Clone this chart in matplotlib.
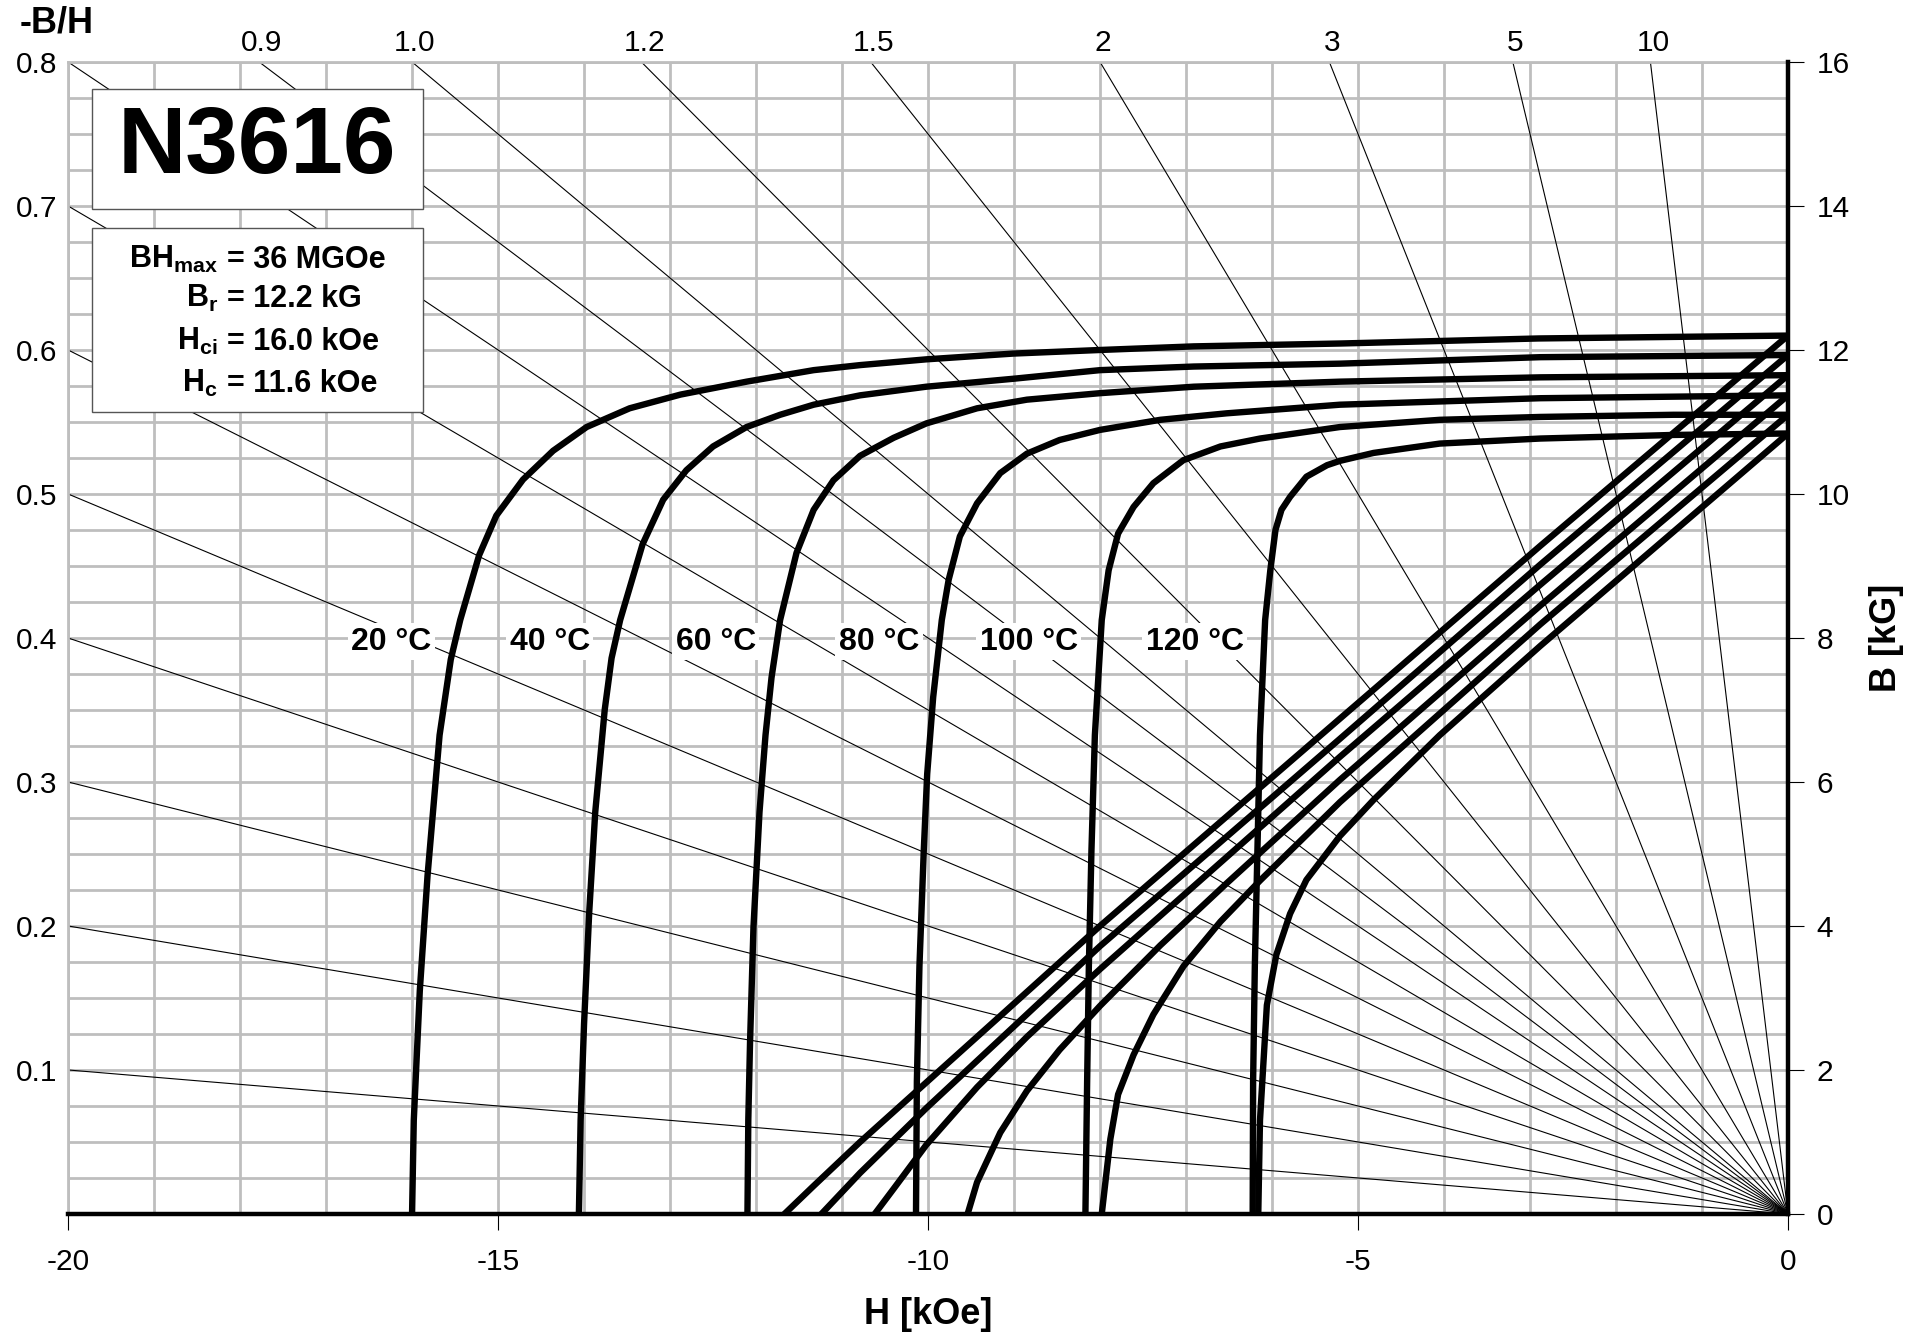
import numpy as np
import matplotlib.pyplot as plt
from matplotlib.patches import Rectangle

plt.rcParams['font.family'] = ['Liberation Sans', 'DejaVu Sans']
plt.rcParams['axes.unicode_minus'] = False
plt.rcParams['mathtext.fontset'] = 'custom'
plt.rcParams['mathtext.rm'] = 'Liberation Sans:bold'
plt.rcParams['mathtext.it'] = 'Liberation Sans:bold'
plt.rcParams['mathtext.bf'] = 'Liberation Sans:bold'

temps = [20, 40, 60, 80, 100, 120]
label_h = [-16.24, -14.40, -12.47, -10.57, -8.83, -6.90]

# intrinsic demagnetization curves, H [kOe] / J [kG]
j20_h = [-16.0, -15.98, -15.91, -15.82, -15.68, -15.55, -15.44, -15.22, -15.02, -14.71, -14.36,
         -13.97, -13.47, -12.88, -12.11, -11.33, -10.79, -10.02, -9.01, -8.0, -6.91, -5.2, -2.9, 0]
j20_b = [0, 1.3, 3.1, 4.7, 6.65, 7.7, 8.25, 9.15, 9.7, 10.2, 10.6,
         10.93, 11.19, 11.38, 11.56, 11.72, 11.79, 11.87, 11.95, 12.0, 12.05, 12.09, 12.16, 12.2]
j40_h = [-14.06, -14.04, -14.0, -13.94, -13.87, -13.76, -13.68, -13.58, -13.32, -13.08, -12.81,
         -12.50, -12.11, -11.72, -11.33, -10.79, -10.02, -9.01, -8.0, -6.91, -5.21, -2.88, 0]
j40_b = [0, 1.3, 2.64, 4.19, 5.58, 7.0, 7.72, 8.25, 9.3, 9.92, 10.33,
         10.66, 10.93, 11.1, 11.24, 11.37, 11.49, 11.6, 11.72, 11.77, 11.81, 11.9, 11.93]
j60_h = [-12.10, -12.09, -12.07, -12.03, -11.96, -11.89, -11.82, -11.72, -11.53, -11.33, -11.10,
         -10.79, -10.40, -10.02, -9.43, -8.85, -8.0, -6.91, -5.21, -2.88, 0]
j60_b = [0, 1.31, 2.38, 3.98, 5.58, 6.65, 7.45, 8.25, 9.18, 9.78, 10.19,
         10.53, 10.78, 10.98, 11.19, 11.31, 11.4, 11.49, 11.56, 11.62, 11.65]
j80_h = [-10.14, -10.13, -10.10, -10.05, -10.01, -9.94, -9.84, -9.76, -9.63, -9.43, -9.16,
         -8.85, -8.47, -8.0, -7.30, -6.53, -5.21, -2.88, 0]
j80_b = [0, 1.84, 3.44, 5.04, 6.11, 7.18, 8.25, 8.81, 9.41, 9.87, 10.29,
         10.56, 10.75, 10.89, 11.03, 11.12, 11.24, 11.33, 11.37]
j100_h = [-8.17, -8.15, -8.13, -8.10, -8.06, -7.98, -7.90, -7.79, -7.61, -7.38, -7.03,
          -6.60, -6.14, -5.21, -4.05, -2.88, -1.33, 0]
j100_b = [0, 1.84, 3.44, 5.04, 6.65, 8.25, 8.94, 9.45, 9.82, 10.15, 10.47,
          10.66, 10.77, 10.93, 11.03, 11.07, 11.1, 11.1]
j120_h = [-6.225, -6.22, -6.20, -6.17, -6.14, -6.08, -6.02, -5.96, -5.89, -5.79, -5.60, -5.36,
          -5.21, -4.82, -4.05, -2.88, -1.33, 0]
j120_b = [0, 1.84, 3.44, 5.04, 6.65, 8.25, 8.94, 9.5, 9.78, 9.96, 10.24, 10.40,
          10.46, 10.57, 10.7, 10.77, 10.82, 10.84]

# normal B-H curves
n20_h = [0, -2.88, -5.21, -8.0, -9.16, -10.79, -11.33, -11.67]
n20_b = [12.2, 9.28, 6.88, 4.0, 2.75, 1.0, 0.39, 0]
n40_h = [0, -2.88, -5.21, -8.0, -10.02, -10.79, -11.24]
n40_b = [11.93, 9.02, 6.6, 3.72, 1.47, 0.57, 0]
n60_h = [0, -2.88, -5.21, -8.0, -8.85, -9.43, -10.02, -10.40, -10.62]
n60_b = [11.65, 8.74, 6.35, 3.4, 2.46, 1.76, 0.96, 0.35, 0]
n80_h = [0, -2.88, -5.21, -6.53, -7.30, -8.0, -8.47, -8.85, -9.16, -9.43, -9.54]
n80_b = [11.37, 8.45, 6.03, 4.59, 3.73, 2.89, 2.28, 1.71, 1.13, 0.44, 0]
n100_h = [0, -2.88, -5.21, -6.14, -6.60, -7.03, -7.38, -7.61, -7.79, -7.88, -7.98]
n100_b = [11.1, 8.19, 5.72, 4.63, 4.06, 3.44, 2.77, 2.21, 1.66, 1.04, 0]
n120_h = [0, -2.88, -4.05, -4.82, -5.21, -5.60, -5.79, -5.95, -6.06, -6.14, -6.16]
n120_b = [10.84, 7.89, 6.65, 5.75, 5.25, 4.64, 4.17, 3.6, 2.9, 1.3, 0]

intr_h = [j20_h, j40_h, j60_h, j80_h, j100_h, j120_h]
intr_b = [j20_b, j40_b, j60_b, j80_b, j100_b, j120_b]
norm_h = [n20_h, n40_h, n60_h, n80_h, n100_h, n120_h]
norm_b = [n20_b, n40_b, n60_b, n80_b, n100_b, n120_b]

# permeance (load) lines -B/H
load_slopes = [0.1, 0.2, 0.3, 0.4, 0.5, 0.6, 0.7, 0.8, 0.9, 1.0, 1.2, 1.5, 2, 3, 5, 10]
top_slopes = [0.9, 1.0, 1.2, 1.5, 2, 3, 5, 10]
top_labels = ['0.9', '1.0', '1.2', '1.5', '2', '3', '5', '10']
bh_ticks = [0.1, 0.2, 0.3, 0.4, 0.5, 0.6, 0.7, 0.8]

grade = 'N3616'
prop_names = ['BH$_{max}$', 'B$_r$', 'H$_{ci}$', 'H$_c$']
prop_values = ['= 36 MGOe', '= 12.2 kG', '= 16.0 kOe', '= 11.6 kOe']

grid_col = '#BEBEBE'
fig = plt.figure(figsize=(19.23, 13.33), dpi=100)
ax = fig.add_axes([0.0354, 0.0893, 0.8944, 0.8642])
ax.set_xlim(-20, 0)
ax.set_ylim(0, 16)

ax.set_xticks(np.arange(-20, 1, 5))
ax.set_xticks(np.arange(-20, 1, 1), minor=True)
ax.set_yticks(np.arange(0, 17, 2))
ax.set_yticks(np.arange(0, 16.1, 0.5), minor=True)
ax.grid(which='both', color=grid_col, lw=2.0)
ax.set_axisbelow(True)
ax.yaxis.tick_right()
ax.tick_params(which='minor', length=0)
ax.tick_params(axis='x', which='major', direction='out', length=11.5, width=0.8,
               labelsize=21.5, pad=13)
ax.tick_params(axis='y', which='major', direction='out', length=11.5, width=0.8,
               labelsize=21.5, pad=9)
for s in ['left', 'top']:
    ax.spines[s].set_color(grid_col)
    ax.spines[s].set_linewidth(2.0)
for s in ['bottom', 'right']:
    ax.spines[s].set_color('black')
    ax.spines[s].set_linewidth(3.2)
    ax.spines[s].set_zorder(5)

# -B/H scale on the left
sec = ax.secondary_yaxis('left', functions=(lambda b: b / 20, lambda r: r * 20))
sec.set_yticks(bh_ticks)
sec.set_yticklabels([f'{v:.1f}' for v in bh_ticks])
sec.tick_params(length=0, labelsize=21.5, pad=8)
sec.spines['left'].set_visible(False)

for p in load_slopes:
    ax.plot([0, -20], [0, 20 * p], color='black', lw=0.8, zorder=2)
for p, lbl in zip(top_slopes, top_labels):
    ax.annotate(lbl, xy=(-16 / p, 16), xytext=(2, 14), textcoords='offset points',
                ha='center', va='center', fontsize=21.5, annotation_clip=False)

for h, b in zip(intr_h, intr_b):
    ax.plot(h, b, color='black', lw=4.6, zorder=4, solid_joinstyle='round')
for h, b in zip(norm_h, norm_b):
    ax.plot(h, b, color='black', lw=4.6, zorder=4, solid_joinstyle='round')

for t, h in zip(temps, label_h):
    ax.text(h, 7.95, f'{t} °C', ha='center', va='center', fontsize=23, fontweight='bold',
            bbox=dict(facecolor='white', edgecolor='none', pad=2.5), zorder=5)

# grade and property boxes
ax.add_patch(Rectangle((0.014, 0.8724), 0.1924, 0.1042, transform=ax.transAxes,
                       facecolor='white', edgecolor='#555555', lw=1, zorder=6))
ax.text(0.1099, 0.925, grade, transform=ax.transAxes, ha='center', va='center',
        fontsize=68, fontweight='bold', zorder=7)
ax.add_patch(Rectangle((0.014, 0.6962), 0.1924, 0.1597, transform=ax.transAxes,
                       facecolor='white', edgecolor='#555555', lw=1, zorder=6))
prop_y = [0.8212, 0.7873, 0.75, 0.7135]
for name, val, y in zip(prop_names, prop_values, prop_y):
    ax.text(0.0872, y, name, transform=ax.transAxes, ha='right', va='baseline',
            fontsize=22, fontweight='bold', zorder=7)
    ax.text(0.0924, y, val, transform=ax.transAxes, ha='left', va='baseline',
            fontsize=22, fontweight='bold', zorder=7)

ax.set_xlabel('H [kOe]', fontsize=26, fontweight='bold', labelpad=15)
ax.yaxis.set_label_position('right')
ax.set_ylabel('B [kG]', fontsize=26, fontweight='bold', labelpad=14)
fig.text(0.0296, 0.9827, '-B/H', fontsize=26, fontweight='bold', ha='center', va='center')

fig.savefig('out.png', dpi=100)
